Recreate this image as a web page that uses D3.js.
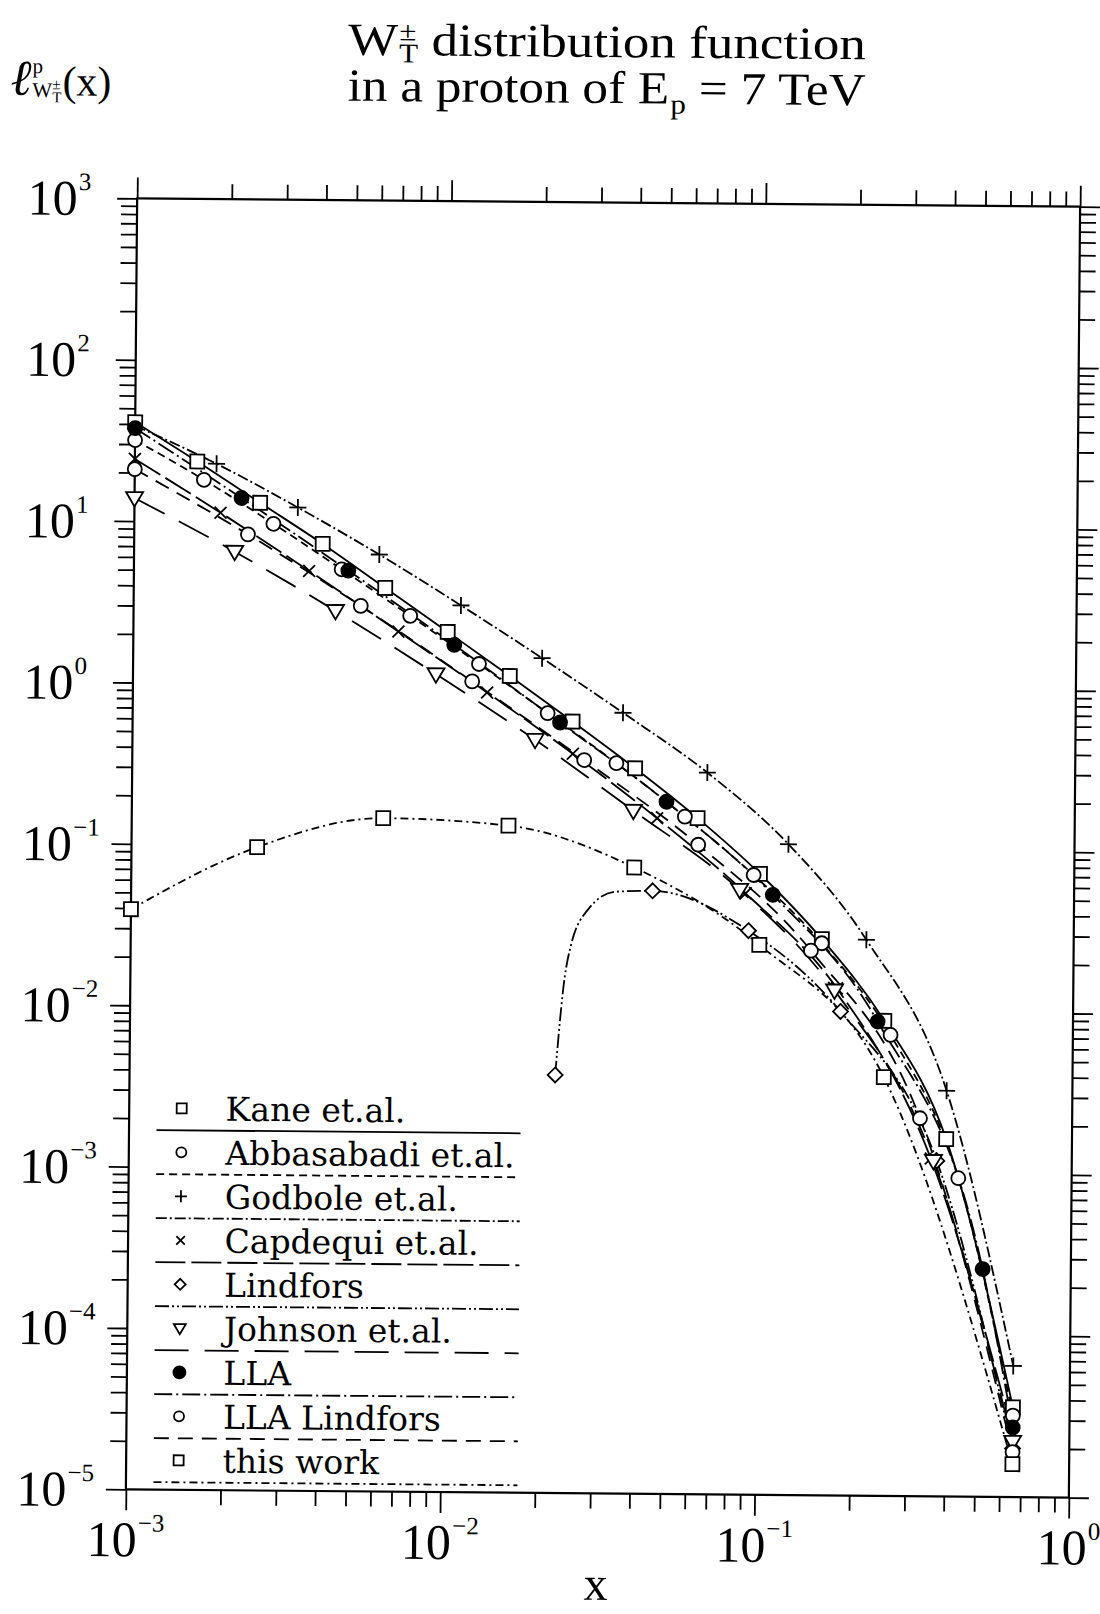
<!DOCTYPE html>
<html>
<head>
<meta charset="utf-8">
<title>W distribution function in a proton</title>
<script src="https://cdn.jsdelivr.net/npm/d3@7/dist/d3.min.js"></script>
<style>
  html, body { margin: 0; padding: 0; background: #fff; }
  svg { display: block; }
  text { white-space: pre; }
</style>
</head>
<body>
<svg id="chart" width="1100" height="1614"></svg>
<script>
// f(x) of transversely polarised W bosons in a 7 TeV proton.
// Rows are [x, f(x)]; a third entry 0 marks a curve point drawn without a symbol.
const kane = [[0.001, 41], [0.00158, 23.6], [0.00251, 13.2], [0.00398, 7.4], [0.00631, 3.98],
  [0.01, 2.14], [0.0158, 1.15], [0.0251, 0.605], [0.0398, 0.313], [0.0631, 0.155],
  [0.1, 0.0705], [0.158, 0.028], [0.251, 0.0088], [0.398, 0.00164], [0.66, 3.6e-5]];
const abbasabadi = [[0.001, 31.8], [0.00166, 18.2], [0.00277, 9.8], [0.00458, 5.16], [0.00759, 2.68],
  [0.0126, 1.36], [0.0209, 0.68], [0.0347, 0.336], [0.0575, 0.158], [0.0955, 0.0693],
  [0.158, 0.0264], [0.263, 0.0072], [0.436, 9.4e-4], [0.66, 3.2e-5]];
const godbole = [[0.001, 39, 0], [0.00182, 22.9], [0.00331, 12.4], [0.00603, 6.4], [0.011, 3.13],
  [0.02, 1.49], [0.0363, 0.69], [0.0676, 0.297], [0.123, 0.108], [0.219, 0.0279],
  [0.398, 0.00327], [0.66, 6.5e-5]];
const capdequi = [[0.001, 24.3], [0.00188, 11.4], [0.00361, 5.02], [0.00697, 2.14], [0.0134, 0.906],
  [0.0252, 0.382], [0.0469, 0.154], [0.0902, 0.0533], [0.177, 0.0139], [0.356, 0.00124],
  [0.66, 2.5e-5]];
const lindfors = [[0.0226, 0.0039], [0.0241, 0.0159, 0], [0.0251, 0.0244, 0], [0.0284, 0.0413, 0],
  [0.0348, 0.0537, 0], [0.0456, 0.0546], [0.0923, 0.0313], [0.182, 0.01], [0.372, 0.0012],
  [0.66, 2.0e-5]];
const johnson = [[0.001, 13.9], [0.00209, 6.55], [0.00439, 2.85], [0.0092, 1.17], [0.0191, 0.464],
  [0.0394, 0.171], [0.0863, 0.056], [0.174, 0.0135], [0.363, 0.0012], [0.66, 2.2e-5]];
const lla = [[0.001, 37.7], [0.00219, 14.1], [0.00481, 5.07], [0.0105, 1.78], [0.0229, 0.596],
  [0.0502, 0.195], [0.11, 0.0524], [0.239, 0.0087], [0.524, 2.58e-4], [0.66, 2.7e-5]];
const llaLindfors = [[0.001, 21], [0.0023, 8.4], [0.00528, 3.07], [0.012, 1.06], [0.0274, 0.35],
  [0.0635, 0.106], [0.146, 0.0237], [0.328, 0.0022], [0.66, 1.9e-5]];
const thisWork = [[0.001, 0.0394], [0.00251, 0.097], [0.00631, 0.149], [0.0158, 0.136],
  [0.0398, 0.076], [0.1, 0.0256], [0.251, 0.00394], [0.66, 1.6e-5]];

const legendLabels = ["Kane et.al.", "Abbasabadi et.al.", "Godbole et.al.", "Capdequi et.al.",
  "Lindfors", "Johnson et.al.", "LLA", "LLA Lindfors", "this work"];
const xDecades = [-3, -2, -1, 0];
const yDecades = [3, 2, 1, 0, -1, -2, -3, -4, -5];

// ---- layout ----
const SERIF = "'Liberation Serif', 'Times New Roman', serif";
const SLAB = "'DejaVu Serif', serif";
const plot = { left: 131.5, right: 1074.5, top: 202.5, bottom: 1493.5 };

const x = d3.scaleLog().domain([1e-3, 1]).range([plot.left, plot.right]);
const y = d3.scaleLog().domain([1e-5, 1e3]).range([plot.bottom, plot.top]);

const svg = d3.select('#chart');
svg.append('rect').attr('width', 1100).attr('height', 1614).attr('fill', '#fff');
// the printed sheet sits slightly askew
const root = svg.append('g').attr('transform', 'rotate(0.5 603 848)');

// one text element made of tspans laid out left to right; a part with
// `stack: [upper, lower]` places two characters one above the other
function rich(parent, px, py, parts, opts) {
  const t = parent.append('text')
    .attr('font-family', opts.font).attr('fill', '#000');
  let cursor = 0;
  for (const p of parts) {
    const tx = cursor + (p.dx || 0);
    const s = t.append('tspan')
      .attr('font-size', p.size)
      .attr('font-style', p.italic ? 'italic' : null);
    let w;
    if (p.stack) {
      s.attr('x', `${tx} ${tx}`).attr('y', `${p.dys[0]} ${p.dys[1]}`)
        .text(p.stack[0] + p.stack[1]);
      w = Math.max(s.node().getSubStringLength(0, 1), s.node().getSubStringLength(1, 1));
    } else {
      s.attr('x', tx).attr('y', p.dy || 0).text(p.t);
      w = s.node().getComputedTextLength();
    }
    cursor = tx + w;
  }
  const sx = opts.width ? opts.width / cursor : 1;
  const ox = opts.anchor === 'middle' ? px - cursor * sx / 2 : px;
  t.attr('transform', `translate(${ox},${py}) scale(${sx},1)`);
  return t;
}

// ---- frame and ticks ----
const xMajor = xDecades.map(e => Math.pow(10, e));
const xMinor = [];
for (let e = -3; e < 0; e++) for (let k = 2; k <= 9; k++) xMinor.push(k * Math.pow(10, e));
const yMajor = yDecades.map(e => Math.pow(10, e));
const yMinor = [];
for (let e = -5; e < 3; e++) for (let k = 2; k <= 9; k++) yMinor.push(k * Math.pow(10, e));

function tickGroup(axis, tx, ty) {
  const g = root.append('g').attr('transform', `translate(${tx},${ty})`).call(axis);
  g.select('.domain').remove();
  g.selectAll('.tick line').attr('stroke', '#000').attr('stroke-width', 1.8);
  g.selectAll('.tick text').remove();
  return g;
}
tickGroup(d3.axisBottom(x).tickValues(xMajor).tickSize(21), 0, plot.bottom);
tickGroup(d3.axisBottom(x).tickValues(xMinor).tickSize(15), 0, plot.bottom);
tickGroup(d3.axisTop(x).tickValues(xMajor).tickSize(21), 0, plot.top);
tickGroup(d3.axisTop(x).tickValues(xMinor).tickSize(15), 0, plot.top);
tickGroup(d3.axisLeft(y).tickValues(yMajor).tickSize(20), plot.left, 0);
tickGroup(d3.axisLeft(y).tickValues(yMinor).tickSize(16), plot.left, 0);
tickGroup(d3.axisRight(y).tickValues(yMajor).tickSize(20), plot.right, 0);
tickGroup(d3.axisRight(y).tickValues(yMinor).tickSize(16), plot.right, 0);

root.append('rect')
  .attr('x', plot.left).attr('y', plot.top)
  .attr('width', plot.right - plot.left).attr('height', plot.bottom - plot.top)
  .attr('fill', 'none').attr('stroke', '#000').attr('stroke-width', 2.2);

const sup = e => (e < 0 ? '\u2212' + (-e) : String(e));
xDecades.forEach(e => {
  rich(root, x(Math.pow(10, e)), plot.bottom + 67,
    [{ t: '10', size: 50 }, { t: sup(e), size: 25, dy: -25, dx: 1 }],
    { font: SERIF, anchor: 'middle' });
});
yDecades.forEach(e => {
  rich(root, 22, y(Math.pow(10, e)) + 17,
    [{ t: '10', size: 50 }, { t: sup(e), size: 25, dy: -25, dx: 1 }],
    { font: SERIF });
});

// ---- titles ----
rich(root, 600, 57, [
  { t: 'W', size: 46 },
  { stack: ['\u00b1', 'T'], size: 27, dys: [-15, 7], dx: 1 },
  { t: ' distribution function', size: 46 }
], { font: SERIF, anchor: 'middle', width: 518 });
rich(root, 600, 103, [
  { t: 'in a proton of E', size: 46 },
  { t: 'p', size: 28, dy: 10, dx: 1 },
  { t: ' = 7 TeV', size: 46 }
], { font: SERIF, anchor: 'middle', width: 518 });

rich(root, 4, 100, [
  { t: '\u2113', size: 50, italic: true },
  { stack: ['p', 'W'], size: 21, dys: [-22, 2], dx: 1 },
  { stack: ['\u00b1', 'T'], size: 15, dys: [-6, 7] },
  { t: '(x)', size: 42, dx: 1 }
], { font: SERIF });

rich(root, 602, 1600, [{ t: 'x', size: 48 }], { font: SERIF, anchor: 'middle' });

// ---- curves ----
const series = [
  { rows: kane, marker: 'square', dash: null },
  { rows: abbasabadi, marker: 'circle', dash: '8,5' },
  { rows: godbole, marker: 'plus', dash: '11,3,2,3' },
  { rows: capdequi, marker: 'cross', dash: '30,6' },
  { rows: lindfors, marker: 'diamond', dash: '14,3,2,3,2,3' },
  { rows: johnson, marker: 'triangle', dash: '34,16' },
  { rows: lla, marker: 'dot', dash: '18,4,2,4' },
  { rows: llaLindfors, marker: 'circle', dash: '15,9' },
  { rows: thisWork, marker: 'square', dash: '8,4,2,4' }
];

const line = d3.line()
  .x(d => x(d[0])).y(d => y(d[1]))
  .curve(d3.curveMonotoneX);

const curves = root.append('g');
series.forEach(s => {
  curves.append('path')
    .attr('d', line(s.rows))
    .attr('fill', 'none').attr('stroke', '#000').attr('stroke-width', 1.8)
    .attr('stroke-dasharray', s.dash);
});

function drawMarker(g, type, cx, cy, s) {
  const st = sel => sel.attr('stroke', '#000').attr('stroke-width', 1.8);
  switch (type) {
    case 'square':
      st(g.append('rect').attr('x', cx - s).attr('y', cy - s)
        .attr('width', 2 * s).attr('height', 2 * s).attr('fill', '#fff'));
      break;
    case 'circle':
      st(g.append('circle').attr('cx', cx).attr('cy', cy).attr('r', s).attr('fill', '#fff'));
      break;
    case 'dot':
      st(g.append('circle').attr('cx', cx).attr('cy', cy).attr('r', s).attr('fill', '#000'));
      break;
    case 'plus':
      st(g.append('path').attr('fill', 'none')
        .attr('d', `M${cx - s},${cy}H${cx + s}M${cx},${cy - s}V${cy + s}`));
      break;
    case 'cross': {
      const a = s * 0.85;
      st(g.append('path').attr('fill', 'none')
        .attr('d', `M${cx - a},${cy - a}L${cx + a},${cy + a}M${cx - a},${cy + a}L${cx + a},${cy - a}`));
      break;
    }
    case 'diamond':
      st(g.append('path').attr('fill', '#fff')
        .attr('d', `M${cx},${cy - s}L${cx + s},${cy}L${cx},${cy + s}L${cx - s},${cy}Z`));
      break;
    case 'triangle':
      st(g.append('path').attr('fill', '#fff')
        .attr('d', `M${cx - s},${cy - s * 0.7}L${cx + s},${cy - s * 0.7}L${cx},${cy + s * 1.0}Z`));
      break;
  }
}

const plotSize = { square: 7, circle: 7, dot: 7, plus: 8.5, cross: 7, diamond: 7.5, triangle: 8.5 };
const marks = root.append('g');
series.forEach(s => {
  s.rows.filter(d => d[2] !== 0).forEach(d => {
    drawMarker(marks, s.marker, x(d[0]), y(d[1]), plotSize[s.marker]);
  });
});

// ---- legend ----
const legendSize = { square: 5, circle: 5, dot: 6, plus: 6, cross: 5, diamond: 5.5, triangle: 6 };
const legend = root.append('g');
legendLabels.forEach((label, i) => {
  const base = 1124 + i * 44;
  const s = series[i];
  drawMarker(legend, s.marker, 184, base - 12, legendSize[s.marker]);
  legend.append('text')
    .attr('x', 228).attr('y', base)
    .attr('font-family', SLAB).attr('font-size', 33).attr('fill', '#000')
    .text(label);
  legend.append('line')
    .attr('x1', 159).attr('x2', 523).attr('y1', base + 10).attr('y2', base + 10)
    .attr('stroke', '#000').attr('stroke-width', 1.8)
    .attr('stroke-dasharray', s.dash);
});
</script>
</body>
</html>
